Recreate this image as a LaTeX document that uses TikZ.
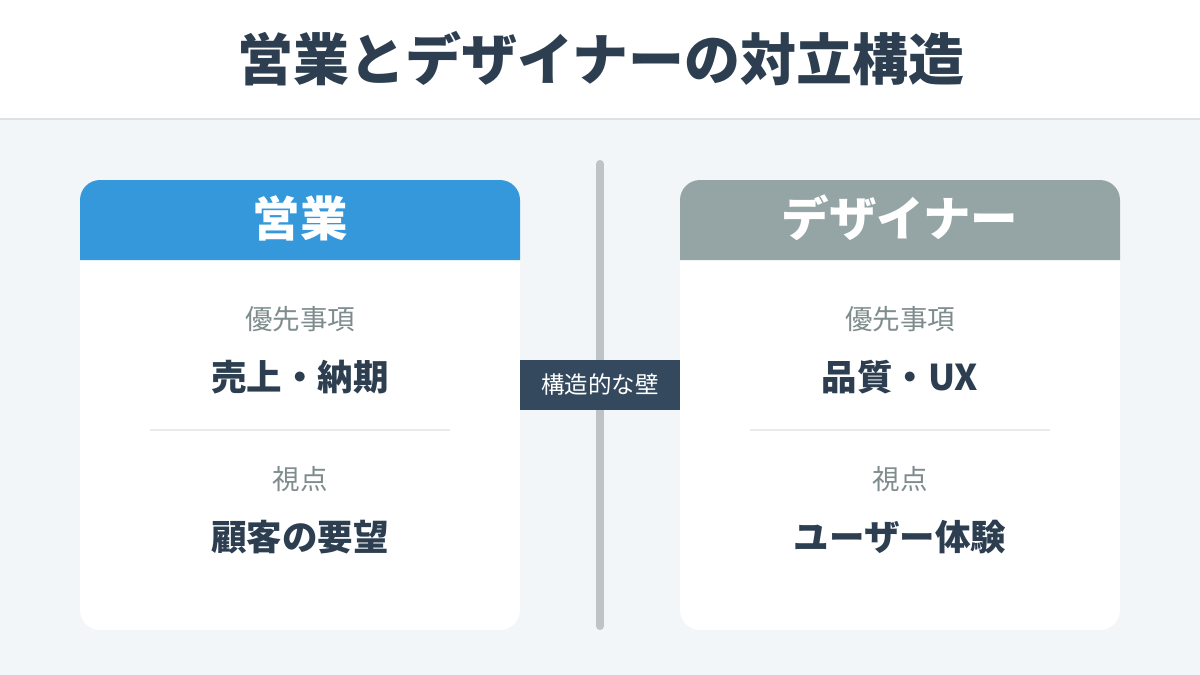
\documentclass[tikz,border=0pt]{standalone}
\usepackage{fontspec}
\setmainfont{Noto Sans CJK JP}
\definecolor{bgc}{HTML}{F2F6F9}
\definecolor{darkc}{HTML}{2C3E50}
\definecolor{grayc}{HTML}{7F8C8D}
\definecolor{bluec}{HTML}{3498DB}
\definecolor{greyhead}{HTML}{95A5A6}
\definecolor{barc}{HTML}{BDC3C7}
\definecolor{labelc}{HTML}{34495E}
\definecolor{divc}{HTML}{E8ECEE}
\definecolor{sepc}{HTML}{DDE1E4}
\tikzset{
  title/.style={font=\bfseries\fontsize{56}{60}\selectfont, text=darkc, inner sep=0pt},
  headtext/.style={font=\bfseries\fontsize{47.5}{50}\selectfont, text=white, inner sep=0pt},
  smalltext/.style={font=\fontsize{27.5}{30}\selectfont, text=grayc, inner sep=0pt},
  bigtext/.style={font=\bfseries\fontsize{35.5}{38}\selectfont, text=darkc, inner sep=0pt},
  wallbox/.style={fill=labelc, text=white, font=\fontsize{23.5}{26}\selectfont, minimum width=160pt, minimum height=50pt, inner sep=0pt},
  divline/.style={draw=divc, line width=2pt},
}
\begin{document}
\begin{tikzpicture}[x=1pt,y=-1pt]
\useasboundingbox (0,0) rectangle (1200,675);
\fill[bgc] (0,0) rectangle (1200,675);
\fill[white] (0,0) rectangle (1200,118);
\fill[sepc] (0,118) rectangle (1200,120);
\node[title] (ttl) at (601,59) {営業とデザイナーの対立構造};
% divider bar
\coordinate (bartop) at (600,164);
\coordinate (barbot) at (600,626);
\draw[barc, line width=8pt, line cap=round] (bartop) -- (barbot);
% left card
\fill[white, rounded corners=20pt] (80,180) rectangle (520,630);
\fill[bluec] (80,260) {[rounded corners=20pt] -- (80,180) -- (520,180)} -- (520,260) -- cycle;
\node[headtext] (lh) at (300,218) {営業};
\node[smalltext] (lp) at (300,319) {優先事項};
\node[bigtext] (lpv) at (300,377) {売上・納期};
\coordinate (ld1) at (150,430);
\coordinate (ld2) at (450,430);
\draw[divline] (ld1) -- (ld2);
\node[smalltext] (lv) at (300,479) {視点};
\node[bigtext] (lvv) at (300,537) {顧客の要望};
% right card
\fill[white, rounded corners=20pt] (680,180) rectangle (1120,630);
\fill[greyhead] (680,260) {[rounded corners=20pt] -- (680,180) -- (1120,180)} -- (1120,260) -- cycle;
\node[headtext] (rh) at (900,218) {デザイナー};
\node[smalltext] (rp) at (900,319) {優先事項};
\node[bigtext] (rpv) at (900,377) {品質・UX};
\coordinate (rd1) at (750,430);
\coordinate (rd2) at (1050,430);
\draw[divline] (rd1) -- (rd2);
\node[smalltext] (rv) at (900,479) {視点};
\node[bigtext] (rvv) at (900,537) {ユーザー体験};
% wall label
\node[wallbox] (wall) at (600,385) {構造的な壁};
\end{tikzpicture}
\end{document}
